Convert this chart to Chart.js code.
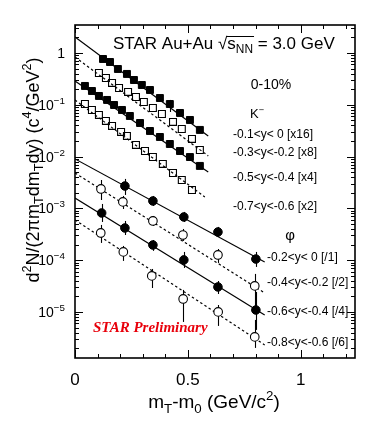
<!DOCTYPE html>
<html><head><meta charset="utf-8">
<script src="https://cdn.jsdelivr.net/npm/chart.js"></script>
<style>html,body{margin:0;padding:0;background:#fff;}canvas{display:block;}</style>
</head><body>
<canvas id="c" width="374" height="427"></canvas>
<script>
// ---------- data ----------
// K- spectra (scaled)
const xK1 = [0.124,0.155,0.190,0.230,0.261,0.296,0.332,0.376,0.420,0.465,0.509,0.553];
const yK1 = [0.766,0.670,0.491,0.394,0.301,0.241,0.193,0.135,0.1035,0.0695,0.0509,0.0327];
const errK1Lo = [null,null,null,null,null,null,null,null,0.0726,null,null,null];
const errK1Hi = [null,null,null,null,null,null,null,null,0.124,null,null,null];

const xK2 = [0.106,0.137,0.164,0.195,0.235,0.270,0.305,0.345,0.385,0.434,0.473,0.518,0.553];
const yK2 = [0.411,0.329,0.264,0.211,0.177,0.1415,0.113,0.0867,0.0664,0.0466,0.0341,0.0219,0.0134];

const xK3 = [0.044,0.075,0.106,0.142,0.173,0.208,0.243,0.288,0.332,0.376,0.420,0.465,0.509,0.553];
const yK3 = [0.231,0.1846,0.148,0.124,0.0991,0.0794,0.0608,0.0445,0.0312,0.0239,0.0175,0.0128,0.0098,0.0066];

const xK4 = [0.044,0.075,0.106,0.137,0.164,0.204,0.230,0.270,0.310,0.345,0.389,0.434,0.473,0.518];
const yK4 = [0.1036,0.0794,0.0636,0.0487,0.039,0.0299,0.025,0.0168,0.0128,0.0098,0.0072,0.00482,0.00353,0.00226];

// phi spectra (scaled)
const xP1 = [0.221,0.345,0.482,0.633,0.801];
const yP1 = [0.0027,0.00139,0.000682,0.00035,0.000105];
const errP1Lo = [0.001815,0.001112,0.000546,0.000281,7.4e-5];
const errP1Hi = [0.00370,0.001735,0.000853,0.000438,0.000144];

const xP2 = [0.115,0.212,0.345,0.478,0.633,0.796];
const yP2 = [0.00237,0.00133,0.000571,0.000306,0.000126,3.18e-5];
const errP2Lo = [0.00145,0.000973,0.000457,0.000235,8.83e-5,1.09e-5];
const errP2Hi = [0.00353,0.001735,0.000713,0.0004,0.000164,5.42e-5];

const xP3 = [0.118,0.221,0.345,0.482,0.633,0.801];
const yP3 = [0.000815,0.000418,0.000196,0.000101,3.04e-5,1.09e-5];
const errP3Lo = [0.000546,0.000306,0.000151,7.07e-5,2.22e-5,4.5e-6];
const errP3Hi = [0.001216,0.000571,0.000245,0.000144,3.96e-5,2.43e-5];

const xP4 = [0.114,0.214,0.34,0.479,0.634,0.796];
const yP4 = [0.000335,0.000144,4.96e-5,1.78e-5,1.0e-5,3.29e-6];
const errP4Lo = [0.000215,9.66e-5,2.9e-5,6.41e-6,5.37e-6,2.02e-6];
const errP4Hi = [0.000478,0.000188,6.76e-5,2.66e-5,1.36e-5,7.01e-6];

// fit lines (end points)
const fitKX = [0, 0.59];
const fitK1Y = [2.04, 0.025];
const fitK2Y = [0.837, 0.0103];
const fitK3Y = [0.288, 0.00504];
const fitK4X = [0, 0.575];
const fitK4Y = [0.124, 0.00166];
const fitPX = [0, 0.84];
const fitP1Y = [0.0090, 9.23e-5];
const fitP2Y = [0.00482, 2.33e-5];
const fitP3Y = [0.00159, 8.75e-6];
const fitP4Y = [0.000597, 2.31e-6];

// labels
const kLabels = ['-0.1<y< 0 [x16]','-0.3<y<-0.2 [x8]','-0.5<y<-0.4 [x4]','-0.7<y<-0.6 [x2]'];
const pLabels = ['-0.2<y< 0 [/1]','-0.4<y<-0.2 [/2]','-0.6<y<-0.4 [/4]','-0.8<y<-0.6 [/6]'];
const xTickVals = [0, 0.5, 1];
const xTickLabels = ['0','0.5','1'];
const yTickExps = [0,-1,-2,-3,-4,-5];

// ---------- chart ----------
const SANS = '"Liberation Sans", Arial, Helvetica, sans-serif';
const SERIF = '"Liberation Serif", "Times New Roman", serif';
const pts = (xs, ys) => xs.map((x, i) => ({x: x, y: ys[i]}));

function ptsSet(xs, ys, style, filled, lo, hi) {
  return {
    data: pts(xs, ys), showLine: false, order: 0,
    pointStyle: style, pointRadius: style === 'rect' ? 4.9 : 4.3,
    pointBackgroundColor: filled ? '#000' : (style === 'rect' ? 'rgba(0,0,0,0)' : '#fff'),
    pointBorderColor: '#000', pointBorderWidth: filled ? 1 : 1.1,
    errLo: lo, errHi: hi
  };
}
function lineSet(xs, ys, dashed) {
  return {
    data: pts(xs, ys), showLine: true, order: 1, pointRadius: 0,
    borderColor: '#000', borderWidth: 1.2, borderDash: dashed ? [2.5, 2.5] : [],
    fill: false, tension: 0
  };
}

function richWidth(ctx, segs, size, family) {
  let w = 0;
  for (const s of segs) {
    const fs = s[1] ? size * 0.7 : size;
    ctx.font = fs + 'px ' + family;
    w += ctx.measureText(s[0]).width;
  }
  return w;
}
function drawRich(ctx, segs, x, baseY, size, family) {
  let cx = x; const pos = [];
  for (const s of segs) {
    const fs = s[1] ? size * 0.7 : size;
    ctx.font = fs + 'px ' + family;
    const dy = s[1] === '^' ? -size * 0.42 : (s[1] === '_' ? size * 0.24 : 0);
    ctx.fillText(s[0], cx, baseY + dy);
    const w = ctx.measureText(s[0]).width;
    pos.push([cx, cx + w]);
    cx += w;
  }
  return pos;
}

const inkPlugin = {
  id: 'ink',
  beforeDraw(chart) {
    const c = chart.ctx; c.save(); c.fillStyle = '#fff'; c.fillRect(0, 0, chart.width, chart.height); c.restore();
  },
  beforeDatasetsDraw(chart) {
    const c = chart.ctx, xs = chart.scales.x, ys = chart.scales.y;
    c.save(); c.strokeStyle = '#000'; c.lineWidth = 1.1;
    chart.data.datasets.forEach(ds => {
      if (!ds.errLo) return;
      ds.data.forEach((p, j) => {
        if (ds.errLo[j] == null) return;
        const px = Math.round(xs.getPixelForValue(p.x)) + 0.5;
        c.beginPath();
        c.moveTo(px, ys.getPixelForValue(ds.errLo[j]));
        c.lineTo(px, ys.getPixelForValue(ds.errHi[j]));
        c.stroke();
      });
    });
    c.restore();
  },
  afterDraw(chart) {
    const c = chart.ctx, ca = chart.chartArea, xs = chart.scales.x, ys = chart.scales.y;
    c.save();
    c.strokeStyle = '#000'; c.fillStyle = '#000';
    // ticks
    c.lineWidth = 1;
    c.beginPath();
    for (let i = 0; i <= 12; i++) {
      const v = i / 10; const px = Math.round(xs.getPixelForValue(v)) + 0.5;
      const len = (i % 5 === 0) ? 8 : 4;
      c.moveTo(px, ca.bottom); c.lineTo(px, ca.bottom - len);
      c.moveTo(px, ca.top); c.lineTo(px, ca.top + len);
    }
    for (let e = -6; e <= 0; e++) {
      for (let m = 1; m <= 9; m++) {
        const v = m * Math.pow(10, e);
        if (v < ys.min || v > ys.max) continue;
        const py = Math.round(ys.getPixelForValue(v)) + 0.5;
        const len = m === 1 ? 8 : 4;
        c.moveTo(ca.left, py); c.lineTo(ca.left + len, py);
        c.moveTo(ca.right, py); c.lineTo(ca.right - len, py);
      }
    }
    c.stroke();
    // frame
    c.lineWidth = 1.6;
    c.strokeRect(ca.left, ca.top, ca.right - ca.left, ca.bottom - ca.top);

    // x tick labels
    c.font = '17px ' + SANS; c.textAlign = 'center'; c.textBaseline = 'alphabetic';
    xTickVals.forEach((v, i) => c.fillText(xTickLabels[i], xs.getPixelForValue(v), ca.bottom + 27));
    // y tick labels
    c.textAlign = 'left';
    yTickExps.forEach(e => {
      const py = ys.getPixelForValue(Math.pow(10, e));
      const base = py + 5;
      const segs = e === 0 ? [['1', '']] : [['10', ''], ['\u2212' + (-e), '^']];
      const w = richWidth(c, segs, 14, SANS);
      drawRich(c, segs, 65 - w, base, 14, SANS);
    });

    // axis titles
    const xt = [['m',''],['T','_'],['-m',''],['0','_'],[' (GeV/c',''],['2','^'],[')','']];
    const xw = richWidth(c, xt, 19, SANS);
    drawRich(c, xt, 214 - xw / 2, 408, 19, SANS);

    const yt = [['d',''],['2','^'],['N/(2\u03c0m',''],['T','_'],['dm',''],['T','_'],['dy) (c',''],['4','^'],['/GeV',''],['2','^'],[')','']];
    const yw = richWidth(c, yt, 18, SANS);
    c.save(); c.translate(39, 170); c.rotate(-Math.PI / 2);
    drawRich(c, yt, -yw / 2, 0, 18, SANS);
    c.restore();

    // header
    const hd = [['STAR Au+Au ',''],['\u221a',''],['s',''],['NN','_'],[' = 3.0 GeV','']];
    const hp = drawRich(c, hd, 113, 49, 17, SANS);
    c.lineWidth = 1; c.beginPath();
    c.moveTo(hp[1][1] - 1, 36.5); c.lineTo(hp[3][1] + 1, 36.5); c.stroke();

    c.font = '14px ' + SANS; c.textAlign = 'center'; c.textBaseline = 'middle';
    c.fillText('0-10%', 271, 85);
    const kw = richWidth(c, [['K',''],['\u2212','^']], 13, SANS);
    c.textAlign = 'left'; c.textBaseline = 'alphabetic';
    drawRich(c, [['K',''],['\u2212','^']], 257 - kw / 2, 118, 13, SANS);

    c.font = '12px ' + SANS; c.textBaseline = 'middle';
    const kY = [135, 153, 178, 207];
    kLabels.forEach((t, i) => c.fillText(t, 233, kY[i]));
    const pY = [258, 283, 312, 343];
    pLabels.forEach((t, i) => c.fillText(t, 267, pY[i]));
    c.font = '15px ' + SANS; c.textAlign = 'center';
    c.fillText('\u03c6', 290, 236);

    c.font = 'italic bold 15px ' + SERIF; c.textAlign = 'left'; c.fillStyle = '#e8000b';
    c.fillText('STAR Preliminary', 93, 328);
    c.restore();
  }
};

new Chart(document.getElementById('c'), {
  type: 'scatter',
  data: {
    datasets: [
      ptsSet(xK1, yK1, 'rect', true, errK1Lo, errK1Hi),
      ptsSet(xK2, yK2, 'rect', false),
      ptsSet(xK3, yK3, 'rect', true),
      ptsSet(xK4, yK4, 'rect', false),
      ptsSet(xP1, yP1, 'circle', true, errP1Lo, errP1Hi),
      ptsSet(xP2, yP2, 'circle', false, errP2Lo, errP2Hi),
      ptsSet(xP3, yP3, 'circle', true, errP3Lo, errP3Hi),
      ptsSet(xP4, yP4, 'circle', false, errP4Lo, errP4Hi),
      lineSet(fitKX, fitK1Y, false),
      lineSet(fitKX, fitK2Y, true),
      lineSet(fitKX, fitK3Y, false),
      lineSet(fitK4X, fitK4Y, true),
      lineSet(fitPX, fitP1Y, false),
      lineSet(fitPX, fitP2Y, true),
      lineSet(fitPX, fitP3Y, false),
      lineSet(fitPX, fitP4Y, true)
    ]
  },
  options: {
    responsive: false, animation: false, devicePixelRatio: 1,
    layout: { padding: { left: 75, top: 25, right: 19, bottom: 69 } },
    scales: {
      x: { type: 'linear', min: 0, max: 1.24, display: false },
      y: { type: 'logarithmic', min: 1.29e-6, max: 3.47, display: false }
    },
    plugins: { legend: { display: false }, tooltip: { enabled: false } },
    events: []
  },
  plugins: [inkPlugin]
});
</script>
</body></html>
